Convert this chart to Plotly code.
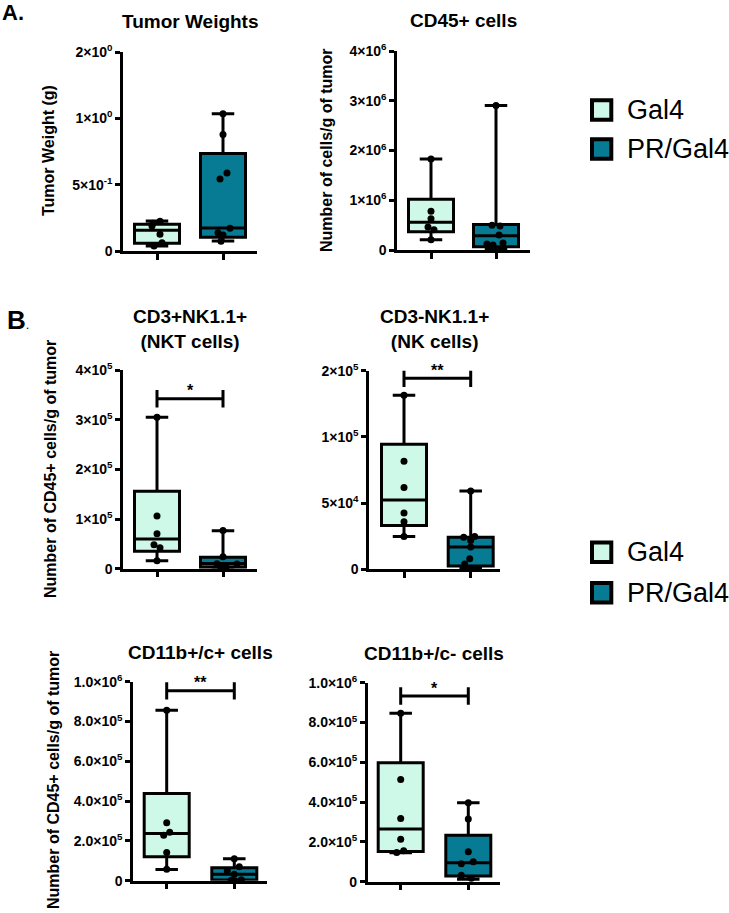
import plotly.graph_objects as go

W, H = 729, 913
FONT = "Liberation Sans, Arial, sans-serif"
GROUPS = ["Gal4", "PR/Gal4"]
FILL = {"Gal4": "#CEF8E8", "PR/Gal4": "#077B93"}

# ---------------- data ----------------
# box statistics: [min, q1, median, q3, max]
tw_gal4_stats = [0.038, 0.058, 0.156, 0.201, 0.226]
tw_pr_stats = [0.075, 0.103, 0.173, 0.734, 1.035]
tw_gal4_pts = [0.224, 0.21, 0.188, 0.126, 0.063, 0.038]
tw_pr_pts = [1.035, 0.879, 0.588, 0.543, 0.171, 0.138, 0.12, 0.073]

cd45_gal4_stats = [0.207e6, 0.367e6, 0.56e6, 1.02e6, 1.827e6]
cd45_pr_stats = [0.01e6, 0.067e6, 0.287e6, 0.513e6, 2.907e6]
cd45_gal4_pts = [1.827e6, 0.78e6, 0.627e6, 0.46e6, 0.407e6, 0.207e6]
cd45_pr_pts = [2.907e6, 0.50e6, 0.48e6, 0.30e6, 0.14e6, 0.12e6, 0.10e6, 0.01e6]

nkt_gal4_stats = [0.161e5, 0.349e5, 0.597e5, 1.557e5, 3.047e5]
nkt_pr_stats = [0.0, 0.027e5, 0.107e5, 0.228e5, 0.765e5]
nkt_gal4_pts = [3.047e5, 1.06e5, 0.705e5, 0.483e5, 0.423e5, 0.161e5]
nkt_pr_pts = [0.77e5, 0.24e5, 0.10e5, 0.095e5, 0.06e5, 0.03e5, 0.0]

nk_gal4_stats = [24700, 33000, 52400, 94500, 131500]
nk_pr_stats = [500, 2500, 16900, 24200, 59200]
nk_gal4_pts = [131500, 81600, 61700, 42600, 36000, 24700]
nk_pr_pts = [59200, 24700, 24200, 21700, 16900, 8060, 4000, 500]

cpp_gal4_stats = [0.569e5, 1.205e5, 2.377e5, 4.385e5, 8.57e5]
cpp_pr_stats = [0.0, 0.03e5, 0.318e5, 0.653e5, 1.105e5]
cpp_gal4_pts = [8.57e5, 2.91e5, 2.43e5, 2.29e5, 1.42e5, 0.57e5]
cpp_pr_pts = [1.105e5, 0.7e5, 0.5e5, 0.33e5, 0.05e5, 0.02e5, 0.0]

cpm_gal4_stats = [1.46e5, 1.52e5, 2.65e5, 5.98e5, 8.46e5]
cpm_pr_stats = [0.12e5, 0.285e5, 0.955e5, 2.33e5, 3.97e5]
cpm_gal4_pts = [8.46e5, 5.14e5, 3.17e5, 2.13e5, 1.56e5, 1.47e5]
cpm_pr_pts = [3.97e5, 3.15e5, 1.51e5, 1.0e5, 0.9e5, 0.33e5, 0.17e5]

# significance bars: y value and label
nkt_sig = (3.42e5, "*")
nk_sig = (1.443e5, "**")
cpp_sig = (9.54e5, "**")
cpm_sig = (9.33e5, "*")

# tick labels
tw_ticks = [0, 0.5, 1.0, 1.5]
tw_ticktext = ["0", "5×10<sup>-1</sup>", "1×10<sup>0</sup>", "2×10<sup>0</sup>"]
cd45_ticks = [0, 1e6, 2e6, 3e6, 4e6]
cd45_ticktext = ["0", "1×10<sup>6</sup>", "2×10<sup>6</sup>", "3×10<sup>6</sup>", "4×10<sup>6</sup>"]
nkt_ticks = [0, 1e5, 2e5, 3e5, 4e5]
nkt_ticktext = ["0", "1×10<sup>5</sup>", "2×10<sup>5</sup>", "3×10<sup>5</sup>", "4×10<sup>5</sup>"]
nk_ticks = [0, 5e4, 1e5, 1.5e5]
nk_ticktext = ["0", "5×10<sup>4</sup>", "1×10<sup>5</sup>", "2×10<sup>5</sup>"]
cd11_ticks = [0, 2e5, 4e5, 6e5, 8e5, 1e6]
cd11_ticktext = ["0", "2.0×10<sup>5</sup>", "4.0×10<sup>5</sup>", "6.0×10<sup>5</sup>",
                 "8.0×10<sup>5</sup>", "1.0×10<sup>6</sup>"]

# ---------------- layout of panels (pixel geometry, style only) ----------------
# horizontal jitter of dots in pixels
tw_gal4_jit = [3, -4, -5, 3, 5, -3]
tw_pr_jit = [0, 0, 4, -3, 7, -5, 0, -2]
cd45_gal4_jit = [0, 0, 0, -3, 3, 0]
cd45_pr_jit = [0, -4, 4, 3, 7, -9, -3, -3]
nkt_gal4_jit = [0, 0, 0, -3, 3, 0]
nkt_pr_jit = [0, 0, -6, 14, -3, 3, 0]
nk_gal4_jit = [0, 0, 0, 0, 0, 0]
nk_pr_jit = [0, 4, -7, 0, 0, -1, -6, 0]
cpp_gal4_jit = [0, 0, 3, -3, 0, 0]
cpp_pr_jit = [0, 5, -7, 0, 7, -3, 0]
cpm_gal4_jit = [0, 0, 0, 0, 3, -4]
cpm_pr_jit = [0, 0, 0, 5, -7, -7, 3]

panels = [
    dict(title="Tumor Weights", xpx=(123, 257), cat=(157, 223), ypx=(52, 251),
         ymax=1.5, ticks=tw_ticks, ticktext=tw_ticktext,
         stats=(tw_gal4_stats, tw_pr_stats), pts=(tw_gal4_pts, tw_pr_pts),
         jit=(tw_gal4_jit, tw_pr_jit), sig=None, titley=22,
         ytitle="Tumor Weight (g)", ytx=48, yty=151),
    dict(title="CD45+ cells", xpx=(397, 530), cat=(431, 496), ypx=(51, 250),
         ymax=4e6, ticks=cd45_ticks, ticktext=cd45_ticktext,
         stats=(cd45_gal4_stats, cd45_pr_stats), pts=(cd45_gal4_pts, cd45_pr_pts),
         jit=(cd45_gal4_jit, cd45_pr_jit), sig=None, titley=20,
         ytitle="Number of cells/g of tumor", ytx=327, yty=150),
    dict(title="CD3+NK1.1+<br>(NKT cells)", xpx=(123, 257), cat=(157, 223), ypx=(370, 568.7),
         ymax=4e5, ticks=nkt_ticks, ticktext=nkt_ticktext,
         stats=(nkt_gal4_stats, nkt_pr_stats), pts=(nkt_gal4_pts, nkt_pr_pts),
         jit=(nkt_gal4_jit, nkt_pr_jit), sig=nkt_sig, titley=329,
         ytitle="Number of CD45+ cells/g of tumor", ytx=50, yty=469),
    dict(title="CD3-NK1.1+<br>(NK cells)", xpx=(369, 500), cat=(404, 470.7), ypx=(370.7, 569.3),
         ymax=1.5e5, ticks=nk_ticks, ticktext=nk_ticktext,
         stats=(nk_gal4_stats, nk_pr_stats), pts=(nk_gal4_pts, nk_pr_pts),
         jit=(nk_gal4_jit, nk_pr_jit), sig=nk_sig, titley=329,
         ytitle=None),
    dict(title="CD11b+/c+ cells", xpx=(133, 267), cat=(166.7, 234.3), ypx=(681.7, 880.7),
         ymax=1e6, ticks=cd11_ticks, ticktext=cd11_ticktext,
         stats=(cpp_gal4_stats, cpp_pr_stats), pts=(cpp_gal4_pts, cpp_pr_pts),
         jit=(cpp_gal4_jit, cpp_pr_jit), sig=cpp_sig, titley=652,
         ytitle="Number of CD45+ cells/g of tumor", ytx=53, yty=780),
    dict(title="CD11b+/c- cells", xpx=(367.7, 500), cat=(400.7, 468.3), ypx=(682.7, 881.7),
         ymax=1e6, ticks=cd11_ticks, ticktext=cd11_ticktext,
         stats=(cpm_gal4_stats, cpm_pr_stats), pts=(cpm_gal4_pts, cpm_pr_pts),
         jit=(cpm_gal4_jit, cpm_pr_jit), sig=cpm_sig, titley=653,
         ytitle=None),
]


def px(p):
    return p / W


def py(p):
    return 1 - p / H


fig = go.Figure()
annotations = []
shapes = []
layout_axes = {}
BOX_W = 45  # px

for i, p in enumerate(panels, start=1):
    sfx = "" if i == 1 else str(i)
    xa, ya = "x" + sfx, "y" + sfx
    spacing = p["cat"][1] - p["cat"][0]
    x0 = (p["xpx"][0] - p["cat"][0]) / spacing
    x1 = (p["xpx"][1] - p["cat"][0]) / spacing
    ypxh = p["ypx"][1] - p["ypx"][0]

    for gi, g in enumerate(GROUPS):
        s = p["stats"][gi]
        fig.add_trace(go.Box(
            x=[gi], lowerfence=[s[0]], q1=[s[1]], median=[s[2]], q3=[s[3]], upperfence=[s[4]],
            width=BOX_W / spacing, whiskerwidth=0.5, fillcolor=FILL[g],
            line=dict(color="black", width=3), boxpoints=False,
            showlegend=False, hoverinfo="skip", xaxis=xa, yaxis=ya, name=g))
    for gi, g in enumerate(GROUPS):
        fig.add_trace(go.Scatter(
            x=[gi + j / spacing for j in p["jit"][gi]], y=p["pts"][gi], mode="markers",
            marker=dict(color="black", size=7), cliponaxis=False,
            showlegend=False, hoverinfo="skip", xaxis=xa, yaxis=ya, name=g))

    if p["sig"] is not None:
        y0, lab = p["sig"]
        c = 8.7 * p["ymax"] / ypxh
        fig.add_trace(go.Scatter(
            x=[0, 1, None, 0, 0, None, 1, 1],
            y=[y0, y0, None, y0 - c, y0 + c, None, y0 - c, y0 + c],
            mode="lines", line=dict(color="black", width=3),
            showlegend=False, hoverinfo="skip", xaxis=xa, yaxis=ya))
        annotations.append(dict(x=0.5, y=y0, xref=xa, yref=ya, text="<b>%s</b>" % lab,
                                showarrow=False, yanchor="middle", yshift=8,
                                font=dict(size=16, color="black", family=FONT)))

    layout_axes["xaxis" + sfx] = dict(
        domain=[px(p["xpx"][0]), px(p["xpx"][1])], range=[x0, x1], anchor=ya,
        tickvals=[0, 1], showticklabels=False, ticks="outside", ticklen=6, tickwidth=2.5,
        tickcolor="black", showline=True, linewidth=2.5, linecolor="black",
        showgrid=False, zeroline=False, fixedrange=True, automargin=False)
    layout_axes["yaxis" + sfx] = dict(
        domain=[py(p["ypx"][1]), py(p["ypx"][0])], range=[0, p["ymax"]], anchor=xa,
        tickvals=p["ticks"], ticktext=p["ticktext"], ticks="outside", ticklen=5,
        tickwidth=2.5, tickcolor="black", showline=True, linewidth=2.5, linecolor="black",
        tickfont=dict(size=14, color="black", family=FONT, weight="bold"),
        showgrid=False, zeroline=False, fixedrange=True, automargin=False)

    annotations.append(dict(
        x=px((p["xpx"][0] + p["xpx"][1]) / 2), y=py(p["titley"]), xref="paper", yref="paper",
        text="<b>%s</b>" % p["title"], showarrow=False, xanchor="center", yanchor="middle",
        font=dict(size=19, color="black", family=FONT)))
    if p["ytitle"]:
        annotations.append(dict(
            x=px(p["ytx"]), y=py(p["yty"]), xref="paper", yref="paper",
            text="<b>%s</b>" % p["ytitle"], textangle=-90, showarrow=False,
            xanchor="center", yanchor="middle",
            font=dict(size=16, color="black", family=FONT)))

# panel letters
annotations.append(dict(x=px(0), y=py(13), xref="paper", yref="paper", text="<b>A.</b>",
                        showarrow=False, xanchor="left", yanchor="middle",
                        font=dict(size=22, color="black", family=FONT)))
annotations.append(dict(x=px(5), y=py(320), xref="paper", yref="paper",
                        text="<b>B</b><span style='font-size:13px'>.</span>",
                        showarrow=False, xanchor="left", yanchor="middle",
                        font=dict(size=26, color="black", family=FONT)))

# legends (two copies)
legend_rows = [(110.0, "Gal4"), (149.0, "PR/Gal4"), (552.3, "Gal4"), (592.7, "PR/Gal4")]
for yc, g in legend_rows:
    shapes.append(dict(type="rect", xref="paper", yref="paper",
                       x0=px(592), x1=px(611.3), y0=py(yc - 9.7), y1=py(yc + 9.7),
                       line=dict(color="black", width=4), fillcolor=FILL[g]))
    annotations.append(dict(x=px(625), y=py(yc), xref="paper", yref="paper", text=g,
                            showarrow=False, xanchor="left", yanchor="middle",
                            font=dict(size=27, color="black", family=FONT)))

fig.update_layout(
    width=W, height=H, margin=dict(l=0, r=0, t=0, b=0, pad=0, autoexpand=False),
    paper_bgcolor="white", plot_bgcolor="white", showlegend=False,
    font=dict(family=FONT, color="black"),
    annotations=annotations, shapes=shapes, **layout_axes)

fig.write_html("out.html", config={"displayModeBar": False},
               post_script="document.body.style.margin='0';document.body.style.overflow='hidden';")
